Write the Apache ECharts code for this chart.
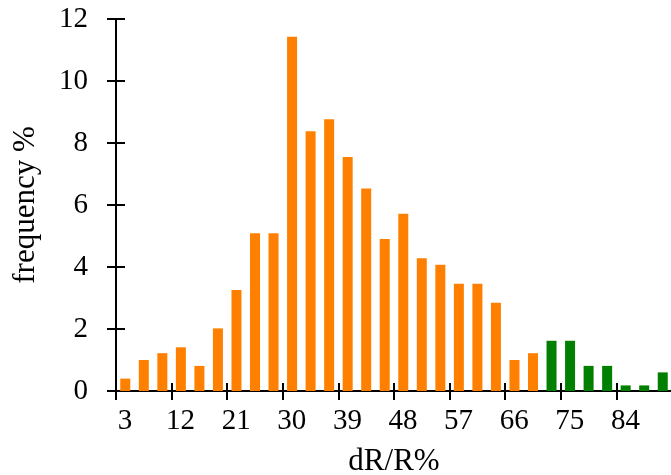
<!DOCTYPE html>
<html><head><meta charset="utf-8">
<script src="https://cdn.jsdelivr.net/npm/echarts@6/dist/echarts.min.js"></script>
<style>html,body{margin:0;padding:0;background:#fff}#c{width:671px;height:475px}</style>
</head><body><div id="c"></div>
<script>
const binCenters = [4.5,7.5,10.5,13.5,16.5,19.5,22.5,25.5,28.5,31.5,34.5,37.5,40.5,43.5,46.5,49.5,52.5,55.5,58.5,61.5,64.5,67.5,70.5,73.5,76.5,79.5,82.5,85.5,88.5,91.5];
const orangeValues = [0.4,1.0,1.22,1.41,0.81,2.02,3.26,5.09,5.09,11.43,8.38,8.77,7.55,6.53,4.9,5.72,4.28,4.07,3.46,3.46,2.85,1.0,1.22];
const greenValues = [1.62,1.62,0.81,0.81,0.18,0.18,0.6];
const xTickValues = [3,12,21,30,39,48,57,66,75,84];
const yMin = 0, yMax = 12, yInterval = 2;
const xMin = 3, xMax = 93;

const orangeData = orangeValues.map((v,i)=>[binCenters[i], v]);
const greenData = greenValues.map((v,i)=>[binCenters[orangeValues.length+i], v]);

const font = 'Liberation Serif';
const chart = echarts.init(document.getElementById('c'), null, {renderer:'canvas'});
const axisLine = {show:true, lineStyle:{color:'#000', width:2}};
chart.setOption({
  animation:false,
  grid:{left:116, top:19, width:556, bottom:84, containLabel:false, outerBoundsMode:'none'},
  xAxis:[{
    type:'value', min:xMin, max:xMax,
    name:'dR/R%', nameLocation:'middle', nameGap:55,
    nameTextStyle:{fontFamily:font, fontSize:31, color:'#000'},
    axisLine:axisLine, splitLine:{show:false},
    axisTick:{show:true, inside:false, length:9, customValues:xTickValues, lineStyle:{color:'#000', width:2}},
    axisLabel:{show:true, customValues:xTickValues, fontFamily:font, fontSize:29, color:'#000', margin:16, padding:[0,0,0,18]}
  },{
    type:'value', min:xMin, max:xMax, position:'bottom',
    axisLine:{show:false}, splitLine:{show:false}, axisLabel:{show:false},
    axisTick:{show:true, inside:true, length:8, customValues:xTickValues, lineStyle:{color:'#000', width:2}}
  }],
  yAxis:[{
    type:'value', min:yMin, max:yMax, interval:yInterval,
    name:'frequency %', nameLocation:'middle', nameGap:75,
    nameTextStyle:{fontFamily:font, fontSize:31, color:'#000'},
    axisLine:axisLine, splitLine:{show:false},
    axisTick:{show:true, inside:false, length:9, lineStyle:{color:'#000', width:2}},
    axisLabel:{fontFamily:font, fontSize:29, color:'#000', margin:28}
  },{
    type:'value', min:yMin, max:yMax, interval:yInterval, position:'left',
    axisLine:{show:false}, splitLine:{show:false}, axisLabel:{show:false},
    axisTick:{show:true, inside:true, length:9, lineStyle:{color:'#000', width:2}}
  }],
  series:[
    {type:'bar', data:orangeData, barWidth:10, barGap:'-100%', itemStyle:{color:'#ff8000'}},
    {type:'bar', data:greenData, barWidth:10, barGap:'-100%', itemStyle:{color:'#007f00'}}
  ]
});
</script></body></html>
